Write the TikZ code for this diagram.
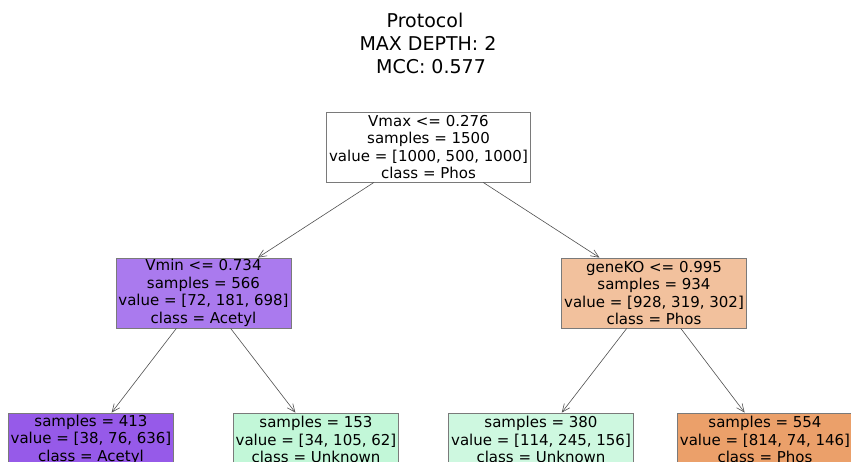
\documentclass[tikz,border=0pt]{standalone}
\usepackage{fontspec}
\setmainfont{DejaVu Sans}
\usetikzlibrary{arrows.meta}
\definecolor{boxgray}{HTML}{7A7A7A}
\definecolor{edgegray}{HTML}{505050}
\definecolor{purpleA}{RGB}{170,122,238}
\definecolor{purpleB}{RGB}{150,90,233}
\definecolor{orangeA}{RGB}{242,193,157}
\definecolor{orangeB}{RGB}{235,160,106}
\definecolor{greenA}{RGB}{194,247,216}
\definecolor{greenB}{RGB}{206,248,224}
\begin{document}
\begin{tikzpicture}[x=1pt,y=-1pt,
  treenode/.style={draw=boxgray, line width=0.8pt, align=center,
    font=\fontsize{15}{17.5}\selectfont, inner xsep=2.5pt, inner ysep=0pt},
  fourline/.style={minimum height=70pt},
  threeline/.style={minimum height=53pt},
  edge/.style={draw=edgegray, line width=0.6pt, -{Straight Barb[length=8pt,width=7pt]}},
  titlestyle/.style={align=center, font=\fontsize{19}{23}\selectfont, inner sep=0pt}]
\useasboundingbox (0,0) rectangle (851,462);
\clip (0,0) rectangle (851,462);
\fill[white] (0,0) rectangle (851,462);

\node[titlestyle] (title) at (428,43) {Protocol\kern0.318em\\MAX DEPTH: 2\\\kern0.318em MCC: 0.577};

\node[treenode, fourline, fill=white] (root) at (428.5,147)
  {Vmax <= 0.276\\samples = 1500\\value = [1000, 500, 1000]\\class = Phos};
\node[treenode, fourline, fill=purpleA] (L) at (203.5,293)
  {Vmin <= 0.734\\samples = 566\\value = [72, 181, 698]\\class = Acetyl};
\node[treenode, fourline, fill=orangeA] (R) at (654,293)
  {geneKO <= 0.995\\samples = 934\\value = [928, 319, 302]\\class = Phos};

\node[treenode, threeline, fill=purpleB] (LL) at (91,439.5)
  {samples = 413\\value = [38, 76, 636]\\class = Acetyl};
\node[treenode, threeline, fill=greenA] (LR) at (316,439.5)
  {samples = 153\\value = [34, 105, 62]\\class = Unknown};
\node[treenode, threeline, fill=greenB] (RL) at (541,439.5)
  {samples = 380\\value = [114, 245, 156]\\class = Unknown};
\node[treenode, threeline, fill=orangeB] (RR) at (765,439.5)
  {samples = 554\\value = [814, 74, 146]\\class = Phos};

\draw[edge] (root) -- (L);
\draw[edge] (root) -- (R);
\draw[edge] (L) -- (LL);
\draw[edge] (L) -- (LR);
\draw[edge] (R) -- (RL);
\draw[edge] (R) -- (RR);
\end{tikzpicture}
\end{document}
